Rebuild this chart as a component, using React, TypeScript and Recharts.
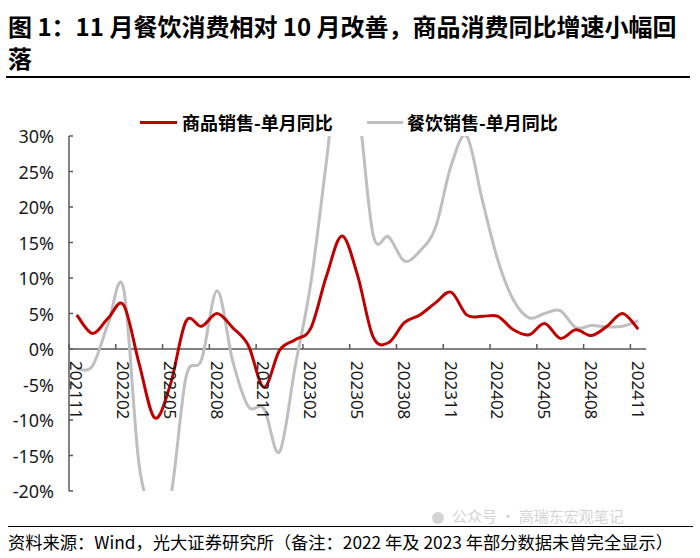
import { LineChart, Line, XAxis, YAxis, ReferenceLine } from 'recharts';

// 202111 - 202411, monthly
const months = [
  '202111', '202112', '202201', '202202', '202203', '202204', '202205', '202206', '202207',
  '202208', '202209', '202210', '202211', '202212', '202301', '202302', '202303', '202304',
  '202305', '202306', '202307', '202308', '202309', '202310', '202311', '202312', '202401',
  '202402', '202403', '202404', '202405', '202406', '202407', '202408', '202409', '202410',
  '202411',
];

// 商品销售-单月同比 (%)
const goodsYoY = [
  4.8, 2.2, 4.3, 6.2, -2.1, -9.7, -5.0, 3.9, 3.2,
  5.0, 3.0, 0.5, -5.4, -0.2, 1.3, 2.9, 10.2, 15.9,
  10.4, 1.7, 0.9, 3.7, 4.8, 6.5, 8.0, 4.8, 4.6,
  4.6, 2.7, 2.0, 3.6, 1.5, 2.7, 1.9, 3.2, 5.0,
  2.8,
];

// 餐饮销售-单月同比 (%)
const cateringYoY = [
  -2.8, -2.4, 3.5, 8.5, -16.4, -22.7, -21.0, -4.0, -1.5,
  8.2, -1.7, -8.1, -8.4, -14.5, -2.5, 9.2, 26.3, 43.8,
  35.1, 16.1, 15.8, 12.4, 13.8, 17.1, 25.8, 30.0, 21.0,
  12.5, 6.9, 4.4, 5.0, 5.4, 3.0, 3.3, 3.1, 3.2,
  4.0,
];

const yTicks = [-20, -15, -10, -5, 0, 5, 10, 15, 20, 25, 30];

const chartData = months.map((m, i) => ({
  month: m,
  goods: goodsYoY[i],
  catering: cateringYoY[i],
}));

// plot box
const PLOT_LEFT = 69;
const PLOT_RIGHT = 646;
const PLOT_TOP = 136;
const PLOT_BOTTOM = 491;
const Y_MIN = -20;
const Y_MAX = 30;
const ZERO_Y = PLOT_TOP + (Y_MAX / (Y_MAX - Y_MIN)) * (PLOT_BOTTOM - PLOT_TOP);
const BAND = (PLOT_RIGHT - PLOT_LEFT) / months.length;

const AXIS_COLOR = '#595959';
const RED = '#C00000';
const GREY = '#BFBFBF';

// Excel-like smoothed line (Catmull-Rom as cubic bezier)
function excelSmooth(context: any) {
  let pts: [number, number][] = [];
  return {
    areaStart() {},
    areaEnd() {},
    lineStart() {
      pts = [];
    },
    point(x: number, y: number) {
      pts.push([+x, +y]);
    },
    lineEnd() {
      const n = pts.length;
      if (!n) return;
      context.moveTo(pts[0][0], pts[0][1]);
      for (let i = 0; i < n - 1; i++) {
        const p0 = pts[Math.max(i - 1, 0)];
        const p1 = pts[i];
        const p2 = pts[i + 1];
        const p3 = pts[Math.min(i + 2, n - 1)];
        context.bezierCurveTo(
          p1[0] + (p2[0] - p0[0]) / 6,
          p1[1] + (p2[1] - p0[1]) / 6,
          p2[0] - (p3[0] - p1[0]) / 6,
          p2[1] - (p3[1] - p1[1]) / 6,
          p2[0],
          p2[1],
        );
      }
    },
  };
}

function MonthTick(props: any) {
  const { x, payload } = props;
  const left = x - BAND / 2;
  return (
    <g>
      <line x1={left} x2={left} y1={ZERO_Y} y2={ZERO_Y - 5} stroke={AXIS_COLOR} strokeWidth={1.5} />
      <text
        transform={`translate(${x}, ${ZERO_Y + 12}) rotate(90)`}
        textAnchor="start"
        dominantBaseline="central"
        fontSize={17}
        fontFamily="'Noto Sans', sans-serif"
        fill="#1a1a1a"
      >
        {payload.value}
      </text>
    </g>
  );
}

function PctTick(props: any) {
  const { x, y, payload } = props;
  return (
    <g>
      <line x1={PLOT_LEFT} x2={PLOT_LEFT + 4} y1={y} y2={y} stroke={AXIS_COLOR} strokeWidth={1.5} />
      <text
        x={x}
        y={y}
        textAnchor="end"
        dominantBaseline="central"
        fontSize={18}
        fontFamily="'Noto Sans', sans-serif"
        fill="#1a1a1a"
      >
        {payload.value}%
      </text>
    </g>
  );
}

export default function App() {
  return (
    <div
      style={{
        position: 'absolute',
        left: 0,
        top: 0,
        width: 700,
        height: 558,
        background: '#fff',
        fontFamily: "'Noto Sans CJK SC', sans-serif",
        color: '#000',
        overflow: 'hidden',
      }}
    >
      <div style={{ position: 'absolute', left: 8, top: 10, fontSize: 24, fontWeight: 700, lineHeight: '32px', whiteSpace: 'nowrap' }}>
        图 1：11 月餐饮消费相对 10 月改善，商品消费同比增速小幅回
      </div>
      <div style={{ position: 'absolute', left: 8, top: 42, fontSize: 24, fontWeight: 700, lineHeight: '32px', whiteSpace: 'nowrap' }}>
        落
      </div>
      <div style={{ position: 'absolute', left: 6, top: 76, width: 684, height: 1.5, background: '#000' }} />

      {/* legend */}
      <div style={{ position: 'absolute', left: 140, top: 121, width: 37, height: 3, background: RED }} />
      <div style={{ position: 'absolute', left: 182, top: 109, fontSize: 18, fontWeight: 700, lineHeight: '26px', whiteSpace: 'nowrap' }}>
        商品销售-单月同比
      </div>
      <div style={{ position: 'absolute', left: 367, top: 121, width: 36, height: 3, background: GREY }} />
      <div style={{ position: 'absolute', left: 407, top: 109, fontSize: 18, fontWeight: 700, lineHeight: '26px', whiteSpace: 'nowrap' }}>
        餐饮销售-单月同比
      </div>

      <div style={{ position: 'absolute', left: 0, top: 0 }}>
        <LineChart width={700} height={558} data={chartData} margin={{ top: PLOT_TOP, right: 700 - PLOT_RIGHT, bottom: 47, left: 9 }}>
          <XAxis
            dataKey="month"
            height={20}
            axisLine={false}
            tickLine={false}
            interval={2}
            padding={{ left: BAND / 2, right: BAND / 2 }}
            tick={<MonthTick />}
          />
          <YAxis
            width={60}
            domain={[Y_MIN, Y_MAX]}
            ticks={yTicks}
            allowDataOverflow
            tickSize={0}
            tickMargin={15}
            tickLine={false}
            axisLine={{ stroke: AXIS_COLOR, strokeWidth: 1.5 }}
            tick={<PctTick />}
          />
          <ReferenceLine y={0} stroke={AXIS_COLOR} strokeWidth={1.5} />
          <Line
            dataKey="catering"
            type={excelSmooth as any}
            stroke={GREY}
            strokeWidth={3}
            dot={false}
            isAnimationActive={false}
          />
          <Line
            dataKey="goods"
            type={excelSmooth as any}
            stroke={RED}
            strokeWidth={3}
            dot={false}
            isAnimationActive={false}
          />
        </LineChart>
      </div>

      {/* faint watermark above the source line */}
      <div style={{ position: 'absolute', left: 432, top: 507, color: '#d4d4d4', fontSize: 15, lineHeight: '18px', whiteSpace: 'nowrap' }}>
        <span style={{ display: 'inline-block', width: 12, height: 12, borderRadius: 6, background: '#d4d4d4', marginRight: 8, verticalAlign: 'middle' }} />
        公众号 · 高瑞东宏观笔记
      </div>
      <div style={{ position: 'absolute', left: 8, top: 525.5, width: 685, height: 1.5, background: '#000' }} />
      <svg style={{ position: 'absolute', left: 0, top: 528 }} width={700} height={28}>
        <text
          x={8}
          y={13}
          dominantBaseline="central"
          fontSize={17}
          fontFamily="'Noto Sans CJK SC', sans-serif"
          fill="#000"
          textLength={665}
          lengthAdjust="spacingAndGlyphs"
        >
          资料来源：Wind，光大证券研究所（备注：2022 年及 2023 年部分数据未曾完全显示）
        </text>
      </svg>
    </div>
  );
}
